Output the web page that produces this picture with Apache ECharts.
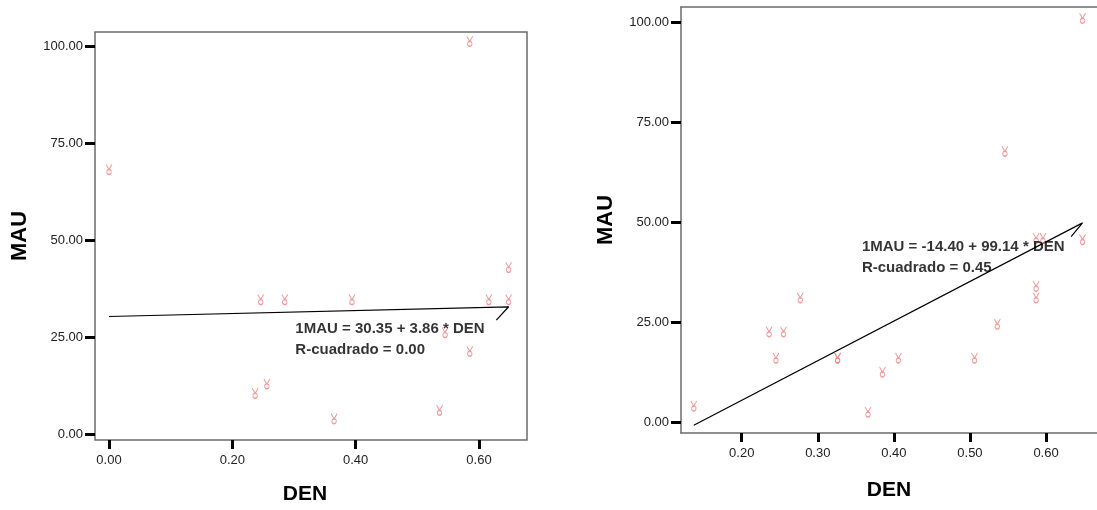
<!DOCTYPE html>
<html>
<head>
<meta charset="utf-8">
<title>MAU vs DEN</title>
<script src="https://cdn.jsdelivr.net/npm/echarts@6/dist/echarts.min.js"></script>
<style>
  html, body { margin: 0; padding: 0; background: #fff; }
  #chart { width: 1097px; height: 510px; }
</style>
</head>
<body>
<div id="chart"></div>
<script>
// Left panel: DEN / MAU observations
const leftDen = [0.00, 0.585, 0.246, 0.285, 0.394, 0.616, 0.648, 0.648, 0.545, 0.585, 0.237, 0.256, 0.365, 0.536];
const leftMau = [68.2, 101.2, 34.7, 34.7, 34.7, 34.7, 34.7, 43.0, 26.2, 21.4, 10.6, 13.0, 4.0, 6.2];
// Right panel: DEN / MAU observations
const rightDen = [0.648, 0.546, 0.587, 0.596, 0.648, 0.587, 0.587, 0.536, 0.277, 0.236, 0.255, 0.245, 0.326, 0.326, 0.406, 0.506, 0.385, 0.366, 0.137];
const rightMau = [101.1, 67.8, 46.0, 46.0, 45.7, 34.0, 31.1, 24.5, 31.1, 22.6, 22.6, 16.0, 16.0, 16.0, 16.0, 16.0, 12.5, 2.5, 4.0];

// Linear fits (MAU = a + b * DEN)
const leftFit = [30.35, 3.86, 0.00];    // intercept, slope, R²
const rightFit = [-14.40, 99.14, 0.45];

// Tick values
const leftXTicks = [0.0, 0.2, 0.4, 0.6];
const rightXTicks = [0.2, 0.3, 0.4, 0.5, 0.6];
const yTicks = [0, 25, 50, 75, 100];

const pink = '#f08282';
const frame = '#6b6b6b';
const markerPath = 'path://M0 0 L3 5 L6 0 M3 5 C0 5 0 10 3 10 C6 10 6 5 3 5 Z';
const fontFamily = '"Liberation Sans", Arial, sans-serif';

function pairs(xs, ys) { return xs.map((x, i) => [x, ys[i]]); }

function fitLine(xs, fit, tail) {
  const lo = Math.min(...xs), hi = Math.max(...xs);
  const f = x => fit[0] + fit[1] * x;
  return [[lo, f(lo)], [hi, f(hi)], tail];
}

function fitText(fit) {
  const a = fit[0].toFixed(2);
  const b = fit[1].toFixed(2);
  return '1MAU = ' + a + ' + ' + b + ' * DEN\nR-cuadrado = ' + fit[2].toFixed(2);
}

function xAxis(gridIndex, min, max, ticks, nameGap, namePad, line) {
  return {
    gridIndex, type: 'value', min, max, position: 'bottom',
    name: 'DEN', nameLocation: 'middle', nameGap,
    nameTextStyle: { fontFamily, fontWeight: 'bold', fontSize: 21, color: '#000', padding: namePad },
    axisLine: { show: line, onZero: false, lineStyle: { color: frame, width: 1.5 } },
    axisTick: { show: true, inside: false, length: 9, customValues: ticks, lineStyle: { color: '#000', width: 3 } },
    axisLabel: { customValues: ticks, margin: 14, fontFamily, fontSize: 13, color: '#222',
      formatter: v => v.toFixed(2) },
    splitLine: { show: false }
  };
}

// Plain top edge of a frame (no ticks or labels)
function topEdge(gridIndex, min, max) {
  return {
    gridIndex, type: 'value', min, max, position: 'top',
    axisLine: { show: true, onZero: false, lineStyle: { color: frame, width: 1.5 } },
    axisTick: { show: false }, axisLabel: { show: false }, splitLine: { show: false }
  };
}

function yAxis(gridIndex, min, max, line) {
  return {
    gridIndex, type: 'value', min, max,
    name: 'MAU', nameLocation: 'middle', nameGap: 64,
    nameTextStyle: { fontFamily, fontWeight: 'bold', fontSize: 22, color: '#000' },
    axisLine: { show: line, onZero: false, lineStyle: { color: frame, width: 1.5 } },
    axisTick: { show: true, inside: false, length: 10, customValues: yTicks, lineStyle: { color: '#000', width: 3 } },
    axisLabel: { customValues: yTicks, margin: 12, fontFamily, fontSize: 13, color: '#222',
      formatter: v => v.toFixed(2) },
    splitLine: { show: false }
  };
}

function scatter(xi, yi, data) {
  return {
    type: 'scatter', xAxisIndex: xi, yAxisIndex: yi, data,
    symbol: markerPath, symbolSize: [6, 10],
    itemStyle: { color: 'rgba(0,0,0,0)', borderColor: pink, borderWidth: 1.1 },
    z: 3
  };
}

function fitSeries(xi, yi, data) {
  return {
    type: 'line', xAxisIndex: xi, yAxisIndex: yi, data,
    symbol: 'none', lineStyle: { color: '#000', width: 1.2 }, z: 2
  };
}

function note(xi, yi, pos, text) {
  return {
    type: 'scatter', xAxisIndex: xi, yAxisIndex: yi, data: [pos],
    symbolSize: 1, itemStyle: { color: 'rgba(0,0,0,0)' }, silent: true,
    label: { show: true, position: [0, 0], align: 'left', verticalAlign: 'top',
      formatter: () => text, fontFamily, fontWeight: 'bold', fontSize: 15, lineHeight: 21, color: '#000' },
    z: 4
  };
}

const chart = echarts.init(document.getElementById('chart'), null, { renderer: 'canvas' });
chart.setOption({
  animation: false,
  backgroundColor: '#fff',
  grid: [
    // left panel: closed frame
    { left: 95, top: 32, width: 432, height: 414, show: true, borderColor: frame, borderWidth: 1.5, backgroundColor: '#fff' },
    // right panel: runs off the right edge, frame drawn by axis lines
    { left: 681, top: 7, width: 419, height: 426, show: false }
  ],
  xAxis: [
    xAxis(0, -0.0227, 0.6778, leftXTicks, 44, [0, 12, 0, 0], false),
    xAxis(1, 0.1202, 0.667, rightXTicks, 47, [0, 0, 0, 0], true),
    topEdge(1, 0.1202, 0.667)
  ],
  yAxis: [
    yAxis(0, -1.45, 103.6, false),
    yAxis(1, -2.76, 103.9, true)
  ],
  series: [
    fitSeries(0, 0, fitLine(leftDen, leftFit, [0.628, 29.4])),
    scatter(0, 0, pairs(leftDen, leftMau)),
    note(0, 0, [0.303, 29.8], fitText(leftFit)),
    fitSeries(1, 1, fitLine(rightDen, rightFit, [0.633, 46.4])),
    scatter(1, 1, pairs(rightDen, rightMau)),
    note(1, 1, [0.3587, 46.4], fitText(rightFit))
  ]
});
</script>
</body>
</html>
